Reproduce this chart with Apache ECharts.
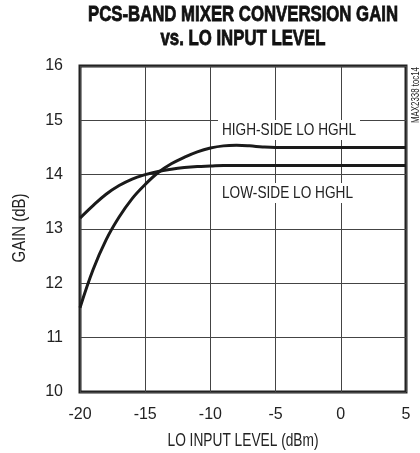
<!DOCTYPE html>
<html>
<head>
<meta charset="utf-8">
<script src="https://cdn.jsdelivr.net/npm/echarts@6/dist/echarts.min.js"></script>
<style>
html,body{margin:0;padding:0;background:#fff;}
#chart{width:420px;height:453px;}
</style>
</head>
<body>
<div id="chart"></div>
<script>
var loLevel = [-20,-19,-18,-17,-16,-15,-14,-13,-12,-11,-10,-9,-8,-7,-6,-5,-4,-3,-2,-1,0,1,2,3,4,5];
var highSideGain = [11.55,12.25,12.8,13.22,13.56,13.82,14.04,14.2,14.32,14.42,14.49,14.53,14.54,14.53,14.51,14.5,14.5,14.5,14.5,14.5,14.5,14.5,14.5,14.5,14.5,14.5];
var lowSideGain = [13.2,13.43,13.64,13.8,13.92,14.0,14.06,14.1,14.13,14.15,14.16,14.17,14.17,14.17,14.17,14.17,14.17,14.17,14.17,14.17,14.17,14.17,14.17,14.17,14.17,14.17];
var xTicks = [-20,-15,-10,-5,0,5];
var yTicks = [10,11,12,13,14,15,16];
var titleLines = ['PCS-BAND MIXER CONVERSION GAIN','vs. LO INPUT LEVEL'];
var seriesNames = ['HIGH-SIDE LO HGHL','LOW-SIDE LO HGHL'];
var xName = 'LO INPUT LEVEL (dBm)';
var yName = 'GAIN (dB)';
var note = 'MAX2338 toc14';

function pairs(xs, ys){ return xs.map(function(x,i){return [x, ys[i]];}); }

var F = '"Liberation Sans", Arial, sans-serif';
var mctx = document.createElement('canvas').getContext('2d');
function textW(str, font){ mctx.font = font; return mctx.measureText(str).width; }

// condensed text: scale horizontally so that the text spans the given width
function condText(str, font, width, cx, cy, rot, fill, strokeW){
  var w = textW(str, font);
  var s = width / w;
  var st = {text:str, font:font, fill:fill||'#222', align:'center', verticalAlign:'middle'};
  if (strokeW) { st.stroke = fill||'#222'; st.lineWidth = strokeW; }
  return {type:'text', x:cx, y:cy, rotation:rot||0, scaleX:s, scaleY:1, z:10, style:st};
}
function condLabel(str, font, left, width, cy){
  var w = textW(str, font);
  var s = width / w;
  return {type:'group', x:left, y:cy, z:10, children:[
    {type:'rect', shape:{x:-4, y:-10, width:width+8, height:20}, style:{fill:'#fff'}, z:10},
    {type:'text', x:0, y:0, scaleX:s, z:11,
     style:{text:str, font:font, fill:'#222', align:'left', verticalAlign:'middle'}}
  ]};
}

var TF = 'bold 22px ' + F;
var chart = echarts.init(document.getElementById('chart'));
chart.setOption({
  animation:false,
  backgroundColor:'#fff',
  grid:{left:80, right:14, top:66, bottom:61, show:true, borderColor:'#222', borderWidth:3},
  xAxis:{
    type:'value', min:-20, max:5, interval:5,
    axisLine:{show:false}, axisTick:{show:false},
    axisLabel:{fontFamily:F, fontSize:16, color:'#222', margin:15,
      formatter:function(v){return xTicks.indexOf(v)>=0? String(v):'';}},
    splitLine:{show:true, lineStyle:{color:'#444', width:1}}
  },
  yAxis:{
    type:'value', min:10, max:16, interval:1,
    axisLine:{show:false}, axisTick:{show:false},
    axisLabel:{fontFamily:F, fontSize:16, color:'#222', margin:17,
      formatter:function(v){return yTicks.indexOf(v)>=0? String(v):'';}},
    splitLine:{show:true, lineStyle:{color:'#444', width:1}}
  },
  series:[
    {name:seriesNames[0], type:'line', data:pairs(loLevel, highSideGain), smooth:0.4, showSymbol:false,
     lineStyle:{color:'#1a1a1a', width:3}, z:3},
    {name:seriesNames[1], type:'line', data:pairs(loLevel, lowSideGain), smooth:0.4, showSymbol:false,
     lineStyle:{color:'#1a1a1a', width:3}, z:3}
  ],
  graphic:[
    condText(titleLines[0], TF, 310, 243, 15, 0, '#111', 0.8),
    condText(titleLines[1], TF, 165, 243, 39, 0, '#111', 0.8),
    condText(xName, '18px ' + F, 151, 243, 441),
    condText(yName, '18px ' + F, 69, 20, 228, Math.PI/2),
    condLabel(seriesNames[0], '17px ' + F, 222, 134, 130),
    condLabel(seriesNames[1], '17px ' + F, 222, 131, 193),
    condText(note, '11px ' + F, 56, 416, 95, Math.PI/2)
  ]
});
</script>
</body>
</html>
